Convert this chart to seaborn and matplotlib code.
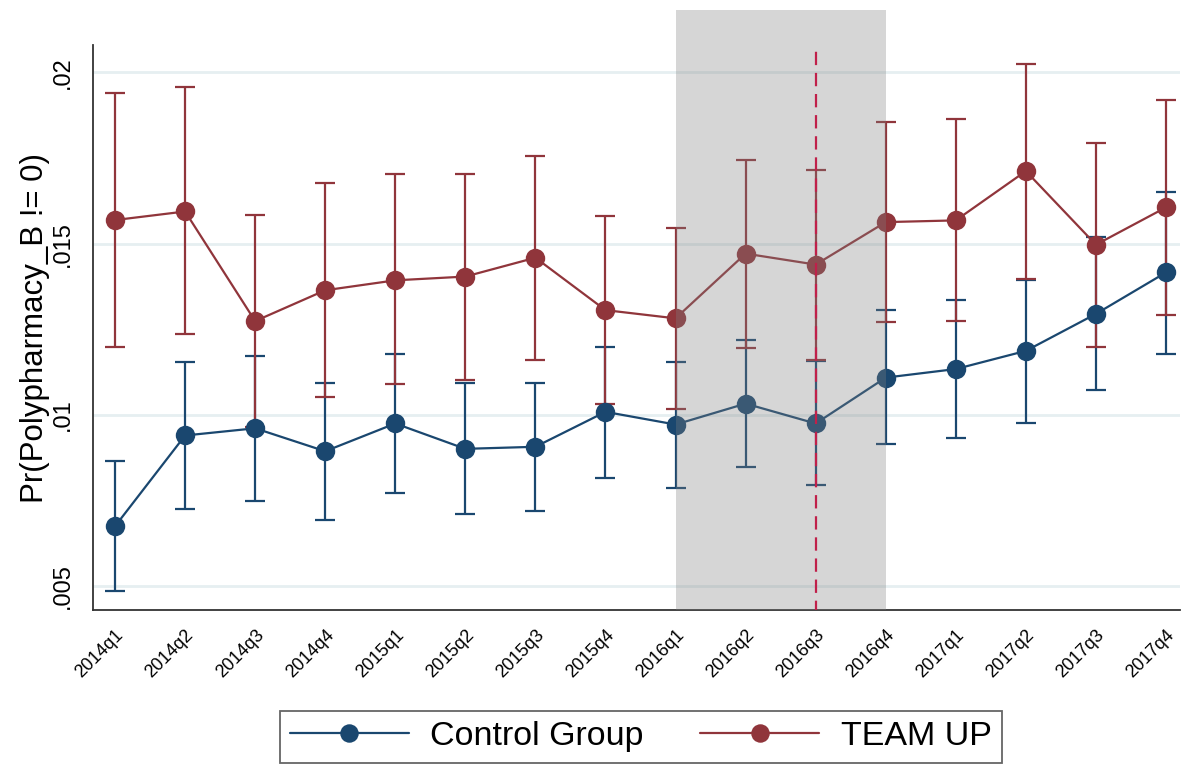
import pandas as pd
import matplotlib
matplotlib.use("Agg")
import matplotlib.pyplot as plt
import seaborn as sns

# quarters and estimates
quarters = ["2014q1", "2014q2", "2014q3", "2014q4", "2015q1", "2015q2", "2015q3", "2015q4",
            "2016q1", "2016q2", "2016q3", "2016q4", "2017q1", "2017q2", "2017q3", "2017q4"]

control_mean = [0.00675, 0.00940, 0.00961, 0.00894, 0.00975, 0.00901, 0.00907, 0.01009,
                0.00972, 0.01033, 0.00975, 0.01109, 0.01134, 0.01187, 0.01295, 0.01416]
control_lo = [0.00486, 0.00725, 0.00750, 0.00692, 0.00773, 0.00710, 0.00719, 0.00816,
              0.00788, 0.00848, 0.00794, 0.00914, 0.00934, 0.00977, 0.01074, 0.01179]
control_hi = [0.00865, 0.01154, 0.01173, 0.01092, 0.01178, 0.01093, 0.01093, 0.01199,
              0.01156, 0.01218, 0.01158, 0.01306, 0.01335, 0.01395, 0.01520, 0.01652]

teamup_mean = [0.01569, 0.01594, 0.01274, 0.01364, 0.01393, 0.01404, 0.01459, 0.01306,
               0.01282, 0.01471, 0.01439, 0.01563, 0.01568, 0.01712, 0.01497, 0.01606]
teamup_lo = [0.01197, 0.01236, 0.00965, 0.01052, 0.01091, 0.01103, 0.01161, 0.01032,
             0.01018, 0.01194, 0.01160, 0.01272, 0.01273, 0.01397, 0.01198, 0.01291]
teamup_hi = [0.01941, 0.01957, 0.01583, 0.01676, 0.01703, 0.01704, 0.01755, 0.01582,
             0.01547, 0.01745, 0.01715, 0.01854, 0.01864, 0.02026, 0.01795, 0.01919]

groups = ["Control Group", "TEAM UP"]
colors = {"Control Group": "#1a476f", "TEAM UP": "#90353b"}

yticks = [0.005, 0.01, 0.015, 0.02]
ytick_labels = [".005", ".01", ".015", ".02"]

# long table for seaborn
idx = list(range(len(quarters)))
df = pd.DataFrame({
    "t": idx * 2,
    "pr": control_mean + teamup_mean,
    "lo": control_lo + teamup_lo,
    "hi": control_hi + teamup_hi,
    "group": [groups[0]] * len(idx) + [groups[1]] * len(idx),
})

sns.set_style("white")
plt.rcParams["font.family"] = ["Liberation Sans", "DejaVu Sans"]
plt.rcParams["text.color"] = "black"
plt.rcParams["axes.labelcolor"] = "black"
plt.rcParams["xtick.color"] = "black"
plt.rcParams["ytick.color"] = "black"

fig = plt.figure(figsize=(11.82, 7.7), dpi=100)
ax = fig.add_axes([0.0787, 0.2078, 0.9196, 0.779])

# confidence intervals
for g in groups:
    d = df[df["group"] == g]
    ax.errorbar(d["t"], d["pr"], yerr=[d["pr"] - d["lo"], d["hi"] - d["pr"]],
                fmt="none", ecolor=colors[g], elinewidth=1.6, capsize=7.5,
                capthick=1.6, zorder=3)

sns.lineplot(data=df, x="t", y="pr", hue="group", palette=colors, marker="o",
             markersize=14, markeredgewidth=0, linewidth=1.6, ax=ax, zorder=4)

handles, labels = ax.get_legend_handles_labels()
ax.get_legend().remove()

# shaded window and policy line
ax.axvspan(8, 11, facecolor="#808080", alpha=0.32, lw=0, zorder=5)
ax.vlines(10, 0.0042, 0.0207, colors="#c0204a", linestyles=(0, (6, 3.5)),
          linewidth=1.6, zorder=6)

ax.set_xlim(-0.314, 15.2)
ax.set_ylim(0.004305, 0.021818)

ax.set_yticks(yticks)
ax.set_yticklabels(ytick_labels, rotation=90, va="center", fontsize=17)
ax.set_xticks(idx)
ax.set_xticklabels(quarters, rotation=45, ha="right", rotation_mode="anchor",
                   fontsize=13)
ax.tick_params(axis="both", direction="out", length=8, width=1.3, color="#333333")
ax.tick_params(axis="y", pad=6)
ax.tick_params(axis="x", pad=4)

ax.grid(axis="y", color="#e6eff1", linewidth=2)
ax.grid(axis="x", visible=False)

for s in ["top", "right"]:
    ax.spines[s].set_visible(False)
for s in ["left", "bottom"]:
    ax.spines[s].set_color("#333333")
    ax.spines[s].set_linewidth(1.3)
ax.spines["left"].set_bounds(0.004305, 0.0208)

ax.set_xlabel("")
ax.set_ylabel("Pr(Polypharmacy_B != 0)", fontsize=22.5)
ax.yaxis.set_label_coords(-0.040, 0.47)

leg = fig.legend(handles, labels, loc="center", bbox_to_anchor=(0.542, 0.043), ncol=2,
                 fontsize=24.5, frameon=True, fancybox=False, edgecolor="#404040",
                 handlelength=3.5, handletextpad=0.63, columnspacing=1.65,
                 borderpad=0.3, markerscale=0.95)
leg.get_frame().set_linewidth(1.3)

fig.savefig("out.png", dpi=100, facecolor="white")
